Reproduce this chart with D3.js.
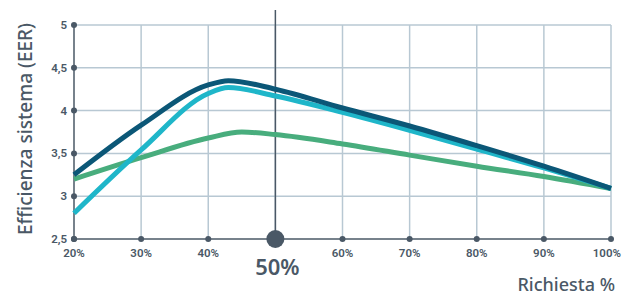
<!DOCTYPE html>
<html>
<head>
<meta charset="utf-8">
<script src="https://cdn.jsdelivr.net/npm/d3@7"></script>
<style>
  body { margin: 0; background: #fff; }
  text { font-family: "Noto Sans", sans-serif; fill: #4a5866; }
</style>
</head>
<body>
<div id="chart"></div>
<script>
var xTicks = [20, 30, 40, 50, 60, 70, 80, 90, 100];
var yTicks = [2.5, 3, 3.5, 4, 4.5, 5];
var yTickLabels = ["2,5", "3", "3,5", "4", "4,5", "5"];

var darkX  = [20, 30, 40, 43, 50, 60, 70, 80, 90, 100];
var darkY  = [3.25, 3.83, 4.30, 4.35, 4.25, 4.03, 3.82, 3.59, 3.35, 3.09];
var cyanX  = [20, 30, 40, 43, 50, 60, 70, 80, 90, 100];
var cyanY  = [2.80, 3.54, 4.20, 4.27, 4.17, 3.98, 3.77, 3.55, 3.33, 3.09];
var greenX = [20, 30, 40, 45, 50, 60, 70, 80, 90, 100];
var greenY = [3.20, 3.45, 3.68, 3.75, 3.72, 3.61, 3.48, 3.35, 3.23, 3.09];

var w = 623, h = 296;
var x = d3.scaleLinear().domain([20, 100]).range([74, 611]);
var y = d3.scaleLinear().domain([2.5, 5]).range([239, 25]);

var svg = d3.select("#chart").append("svg")
  .attr("width", w)
  .attr("height", h)

var grid = "#b8c8d3", dark = "#4a5866";

// grid
svg.selectAll(".hg").data(yTicks.slice(1)).enter().append("line")
  .attr("x1", x(20)).attr("x2", x(100))
  .attr("y1", function(d){ return y(d) }).attr("y2", function(d){ return y(d) })
  .attr("stroke", grid).attr("stroke-width", 1.5)
svg.selectAll(".vg").data(xTicks.slice(1)).enter().append("line")
  .attr("x1", function(d){ return x(d) }).attr("x2", function(d){ return x(d) })
  .attr("y1", y(5)).attr("y2", y(2.5))
  .attr("stroke", grid).attr("stroke-width", 1.5)

// axes
svg.append("line").attr("x1", x(20)).attr("x2", x(20)).attr("y1", y(5)).attr("y2", y(2.5))
  .attr("stroke", dark).attr("stroke-width", 1.5)
svg.append("line").attr("x1", x(20)).attr("x2", x(100)).attr("y1", y(2.5)).attr("y2", y(2.5))
  .attr("stroke", dark).attr("stroke-width", 1.5)
svg.append("line").attr("x1", x(50)).attr("x2", x(50)).attr("y1", 10).attr("y2", y(2.5))
  .attr("stroke", dark).attr("stroke-width", 1.5)

// series
var series = [
  {xs: greenX, ys: greenY, c: "#48ad7d"},
  {xs: cyanX, ys: cyanY, c: "#1fb6c9"},
  {xs: darkX, ys: darkY, c: "#0b5777"}
];
var line = d3.line()
  .x(function(d){ return x(d[0]) })
  .y(function(d){ return y(d[1]) })
  .curve(d3.curveMonotoneX)
series.forEach(function(s){
  svg.append("path")
    .attr("d", line(d3.zip(s.xs, s.ys)))
    .attr("fill", "none")
    .attr("stroke", s.c)
    .attr("stroke-width", 5)
})

// tick dots & labels
svg.selectAll(".yd").data(yTicks).enter().append("circle")
  .attr("cx", x(20)).attr("cy", function(d){ return y(d) }).attr("r", 3).attr("fill", dark)
svg.selectAll(".yl").data(yTicks).enter().append("text")
  .attr("x", 67).attr("y", function(d){ return y(d) + 4 })
  .attr("text-anchor", "end").attr("font-size", 11.5).attr("font-weight", 600)
  .style("font-family", "Roboto")
  .text(function(d, i){ return yTickLabels[i] })

svg.selectAll(".xd").data(xTicks).enter().append("circle")
  .attr("cx", function(d){ return x(d) }).attr("cy", y(2.5))
  .attr("r", function(d){ return d == 50 ? 9 : 3 }).attr("fill", dark)
svg.selectAll(".xl").data(xTicks.filter(function(d){ return d != 50 })).enter().append("text")
  .attr("x", function(d){ return d == 100 ? 621 : x(d) }).attr("y", 257)
  .attr("text-anchor", function(d){ return d == 100 ? "end" : "middle" })
  .attr("font-size", 11.5).attr("font-weight", 600)
  .style("font-family", "Roboto")
  .text(function(d){ return d + "%" })
svg.append("text").attr("x", x(50) + 2).attr("y", 275)
  .attr("text-anchor", "middle").attr("font-size", 22).attr("font-weight", 600)
  .text("50%")

// titles
svg.append("text").attr("x", 615).attr("y", 291)
  .attr("text-anchor", "end").attr("font-size", 18).attr("font-weight", 500)
  .text("Richiesta %")
svg.append("text")
  .attr("transform", "translate(32,129) rotate(-90)")
  .attr("text-anchor", "middle").attr("font-size", 19).attr("font-weight", 500)
  .text("Efficienza sistema (EER)")
</script>
</body>
</html>
